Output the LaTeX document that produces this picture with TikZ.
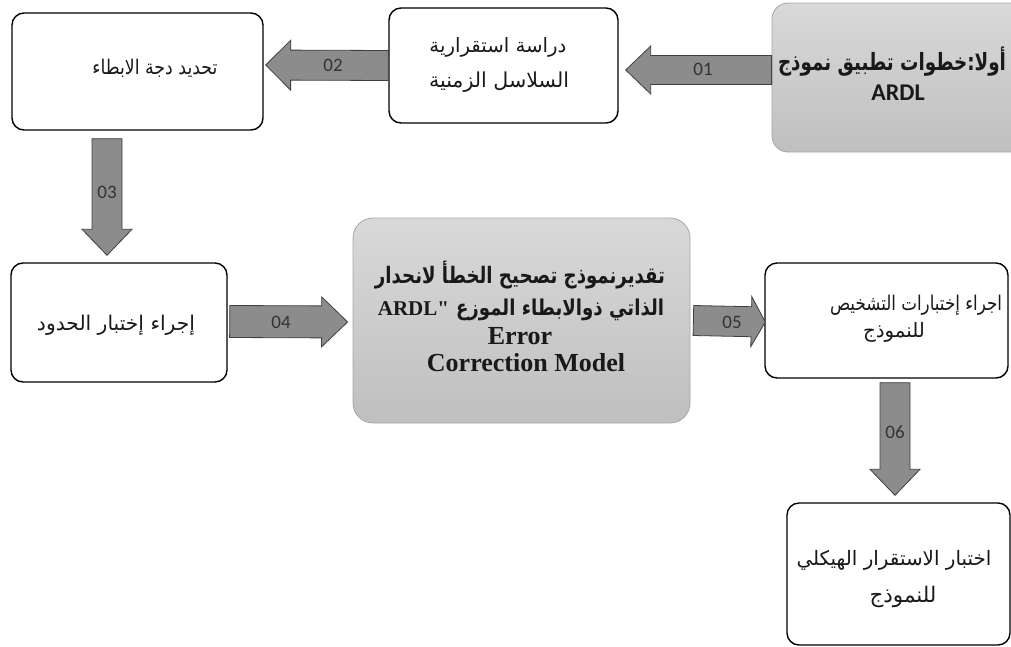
\documentclass[tikz,border=0pt]{standalone}
\usepackage{fontspec}
\usepackage{graphicx}
\usetikzlibrary{calc}
\TeXXeTstate=1
\newfontfamily\arfont[Script=Arabic]{DejaVu Sans}
\newfontfamily\carl{Carlito}
\newfontfamily\tnr{Liberation Serif}
% Arabic line scaled to a width
\newcommand\ART[2]{\resizebox{#1pt}{!}{\arfont #2}}
% Arabic line scaled to a width, then stretched vertically, bold
\newcommand\ARB[3]{\scalebox{1}[#2]{\resizebox{#1pt}{!}{\arfont\bfseries #3}}}
% reference height of the regular Arabic lines
\newlength\arH
\settoheight\arH{\resizebox{158pt}{!}{\arfont\beginR إجراء إختبار الحدود\endR}}
% Arabic line at the reference height, squeezed to a width
\newcommand\ARC[2]{\resizebox{#1pt}{\arH}{\arfont #2}}
% block arrow: #1 tail, #2 tip, #3 shaft half width, #4 head half width, #5 head length
\newcommand\blockarr[5]{%
  \draw[barrow] let \p1=#1, \p2=#2, \n1={veclen(\x2-\x1,\y2-\y1)},
    \n2={(\x2-\x1)/\n1}, \n3={(\y2-\y1)/\n1} in
    ({\x1-#3*\n3},{\y1+#3*\n2})
    -- ({\x2-#5*\n2-#3*\n3},{\y2-#5*\n3+#3*\n2})
    -- ({\x2-#5*\n2-#4*\n3},{\y2-#5*\n3+#4*\n2})
    -- (\p2)
    -- ({\x2-#5*\n2+#4*\n3},{\y2-#5*\n3-#4*\n2})
    -- ({\x2-#5*\n2+#3*\n3},{\y2-#5*\n3-#3*\n2})
    -- ({\x1+#3*\n3},{\y1-#3*\n2}) -- cycle;}
\begin{document}
\begin{tikzpicture}[x=1pt,y=-1pt,
  wbox/.style={draw=black, line width=1.4pt, rounded corners=12pt, fill=white, inner sep=0pt},
  gbox/.style={draw=black!35, line width=0.8pt, rounded corners=16pt, top color=black!15, bottom color=black!25, inner sep=0pt},
  barrow/.style={draw=black!75, line width=0.8pt, fill=black!45, line join=miter},
  num/.style={font=\carl\fontsize{19}{19}\selectfont, text=black!80, inner sep=0pt},
  txt/.style={inner sep=0pt, text=black!90}]
\useasboundingbox (0,0) rectangle (1011,646);
% boxes
\node[gbox, minimum width=258pt, minimum height=149pt] (A) at (901,77.5) {};
\node[wbox, minimum width=229pt, minimum height=115pt] (B) at (503.5,65.5) {};
\node[wbox, minimum width=251pt, minimum height=117pt] (C) at (137.5,71.5) {};
\node[wbox, minimum width=216pt, minimum height=119pt] (D) at (119,322.5) {};
\node[gbox, rounded corners=20pt, minimum width=337pt, minimum height=205pt] (E) at (521.5,320.5) {};
\node[wbox, minimum width=243pt, minimum height=115pt] (F) at (886.5,320.5) {};
\node[wbox, minimum width=223pt, minimum height=142pt] (G) at (898.5,574) {};
% texts
\node[txt] (tA1) at (892,62) {\ARB{228}{1.3}{\beginR أولا:خطوات تطبيق نموذج\endR}};
\node[txt, font=\carl\bfseries\fontsize{24}{24}\selectfont] (tA2) at (898,93) {ARDL};
\node[txt] (tB1) at (498,47) {\ART{137}{\beginR دراسة استقرارية\endR}};
\node[txt] (tB2) at (499,82) {\ART{140}{\beginR السلاسل الزمنية\endR}};
\node[txt] (tC) at (155,68) {\ARC{125}{\beginR تحديد دجة الابطاء\endR}};
\node[txt] (tD) at (116,325) {\ART{158}{\beginR إجراء إختبار الحدود\endR}};
\node[txt] (tE1) at (520,275) {\ARB{290}{1.25}{\beginR تقديرنموذج تصحيح الخطأ لانحدار\endR}};
\node[txt] (tE2) at (521,310) {{\tnr\bfseries\fontsize{21}{21}\selectfont ARDL"}\hspace{7pt}\ARB{208}{1.2}{\beginR الذاتي ذوالابطاء الموزع\endR}};
\node[txt, font=\tnr\bfseries\fontsize{26}{26}\selectfont] (tE3) at (520,336) {Error};
\node[txt, font=\tnr\bfseries\fontsize{26}{26}\selectfont] (tE4) at (526,363) {Correction Model};
\node[txt] (tF1) at (916,305) {\ARC{172}{\beginR اجراء إختبارات التشخيص\endR}};
\node[txt] (tF2) at (894,332) {\ART{62}{\beginR للنموذج\endR}};
\node[txt] (tG1) at (894,560) {\ART{195}{\beginR اختبار الاستقرار الهيكلي\endR}};
\node[txt] (tG2) at (903,597) {\ART{67}{\beginR للنموذج\endR}};
% arrows
\blockarr{($(A.west)+(0,-7.5)$)}{($(B.east)+(7,4.5)$)}{14.5}{24}{25}
\blockarr{(B.west)}{($(C.east)+(2,-6.5)$)}{15}{25}{25}
\blockarr{($(C.south)+(-30.5,8)$)}{($(D.north)+(-12,-7)$)}{15}{25}{26}
\blockarr{($(D.east)+(2,-1)$)}{($(E.west)+(-5,1.5)$)}{16}{25}{26}
\blockarr{($(E.east)+(3,0)$)}{($(F.west)+(1,1.5)$)}{15}{25}{14}
\blockarr{($(F.south)+(8.5,4)$)}{($(G.north)+(-3.5,-7)$)}{15}{25}{26}
% arrow labels
\node[num] (l01) at (703,69) {01};
\node[num] (l02) at (333,65) {02};
\node[num] (l03) at (107,192) {03};
\node[num] (l04) at (281,322) {04};
\node[num] (l05) at (732,322) {05};
\node[num] (l06) at (895,432) {06};
\end{tikzpicture}
\end{document}
